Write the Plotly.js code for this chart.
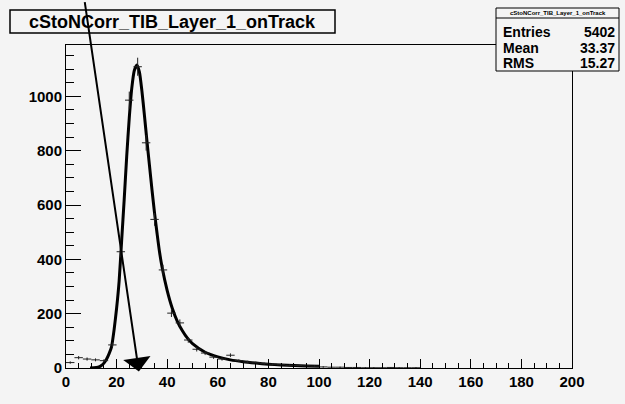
<!DOCTYPE html>
<html><head><meta charset="utf-8">
<script src="https://cdn.plot.ly/plotly-3.0.1.min.js"></script>
<style>html,body{margin:0;padding:0;background:#f4f4f4;}#plot{width:625px;height:404px;}</style>
</head><body><div id="plot"></div>
<script>
// ---- data ----
const binCenters = [1.67,5,8.33,11.67,15,18.33,21.67,25,28.33,31.67,35,38.33,41.67,45,48.33,51.67,55,58.33,61.67,65,68.33,71.67,75,78.33,81.67,85,88.33,91.67,95,98.33,101.67,105,108.33,111.67,115,118.33,121.67,125,128.33,131.67,135,138.33];
const binCounts  = [20,38,33,30,27,85,428,986,1109,829,547,361,202,166,103,69,55,40,33,47,27,22,19,16,14,12,10,9,8,7,4,3,3,2,2,1,1,1,2,1,1,1];
const fitX = [9.5,11,12,13,14,15,16,17,18,19,20,21,22,23,24,25,26,27,28,29,30,31,32,33,34,35,36,37,38,40,42,44,46,48,50,55,60,65,70,75,80,85,90,95,100];
const fitY = [0,1,2,4,9,18,32,52,78,140,220,320,470,620,780,920,1030,1095,1115,1090,1020,930,835,745,655,570,495,425,370,285,220,172,137,110,90,58,41,30,23,18,14,11,9,7,6];
const xTicks = [0,20,40,60,80,100,120,140,160,180,200];
const yTicks = [0,200,400,600,800,1000];
const histTitle = 'cStoNCorr_TIB_Layer_1_onTrack';
const statLabels = ['Entries','Mean','RMS'];
const statValues = ['5402','33.37','15.27'];
const arrowStart = [7.3, 1354];
const arrowEnd = [28.8, -13];

// ---- layout geometry ----
const W=625,H=404,L=66,R=53,T=45,B=36;
const pw=W-L-R, ph=H-T-B;
const xRange=[0,200], yRange=[0,1189];
const px=x=>(x-L)/pw, py=y=>(H-B-y)/ph;
const BG='#f4f4f4';
const FONT='Liberation Sans, Arial, sans-serif';

const hist = {
  x: binCenters, y: binCounts, type:'scatter', mode:'markers',
  marker:{size:1, color:'#222'},
  error_x:{type:'constant', value:1.667, width:0, thickness:1, color:'#222'},
  error_y:{type:'sqrt', width:0, thickness:1, color:'#222'},
  cliponaxis:false, hoverinfo:'skip'
};
const fit = {
  x: fitX, y: fitY, type:'scatter', mode:'lines',
  line:{color:'#000', width:3, shape:'spline', smoothing:0.6}, hoverinfo:'skip'
};

const shapes = [
  {type:'rect', xref:'paper', yref:'paper', x0:px(10), x1:px(335), y0:py(10), y1:py(33),
   line:{color:'#000', width:1.5}, fillcolor:'rgba(0,0,0,0)', layer:'above'},
  {type:'rect', xref:'paper', yref:'paper', x0:px(496), x1:px(619), y0:py(8), y1:py(71),
   line:{color:'#000', width:1}, fillcolor:BG, layer:'above'},
  {type:'line', xref:'paper', yref:'paper', x0:px(496), x1:px(619), y0:py(18), y1:py(18),
   line:{color:'#000', width:1}, layer:'above'}
];

// arrow: tip/tail given in data units, placed via paper fractions so it is not hidden off-range
const toPaperX = v => (v-xRange[0])/(xRange[1]-xRange[0]);
const toPaperY = v => (v-yRange[0])/(yRange[1]-yRange[0]);
const annotations = [
  {xref:'paper', yref:'paper', x:px(172.5), y:py(21.5), xanchor:'center', yanchor:'middle',
   text:histTitle, showarrow:false, font:{family:FONT, size:18, weight:'bold', color:'#000'}},
  {xref:'paper', yref:'paper', x:px(557.5), y:py(13), xanchor:'center', yanchor:'middle',
   text:histTitle, showarrow:false, font:{family:FONT, size:6, weight:'bold', color:'#000'}},
  {xref:'paper', yref:'paper', x:toPaperX(arrowEnd[0]), y:toPaperY(arrowEnd[1]),
   axref:'pixel', ayref:'pixel',
   ax:(toPaperX(arrowStart[0])-toPaperX(arrowEnd[0]))*pw,
   ay:-(toPaperY(arrowStart[1])-toPaperY(arrowEnd[1]))*ph,
   text:' ', font:{size:1}, showarrow:true, arrowhead:1, arrowsize:2.3,
   arrowwidth:2, arrowcolor:'#000', standoff:0, startstandoff:0}
];
const rowY=[32,48,63];
statLabels.forEach((lab,i)=>{
  annotations.push({xref:'paper', yref:'paper', x:px(501), y:py(rowY[i]), xanchor:'left', yanchor:'middle',
    text:lab, showarrow:false, font:{family:FONT, size:14, weight:'bold', color:'#000'}});
  annotations.push({xref:'paper', yref:'paper', x:px(617), y:py(rowY[i]), xanchor:'right', yanchor:'middle',
    text:statValues[i], showarrow:false, font:{family:FONT, size:14, weight:'bold', color:'#000'}});
});

const axisCommon = {
  showgrid:false, zeroline:false, showline:true, linecolor:'#000', linewidth:1, mirror:true,
  ticks:'inside', tickcolor:'#000', tickwidth:1, tickmode:'array',
  tickfont:{family:FONT, size:15, weight:'bold', color:'#000'}
};
const layout = {
  width:W, height:H, margin:{l:L, r:R, t:T, b:B, pad:0},
  paper_bgcolor:BG, plot_bgcolor:BG, showlegend:false,
  xaxis:Object.assign({}, axisCommon, {range:xRange, tickvals:xTicks, ticktext:xTicks.map(String), ticklen:9,
    minor:{tickmode:'linear', tick0:0, dtick:5, ticklen:5, ticks:'inside', tickcolor:'#000'}}),
  yaxis:Object.assign({}, axisCommon, {range:yRange, tickvals:yTicks, ticktext:yTicks.map(String), ticklen:15,
    minor:{tickmode:'linear', tick0:0, dtick:50, ticklen:8, ticks:'inside', tickcolor:'#000'}}),
  shapes:shapes, annotations:annotations
};
Plotly.newPlot('plot', [fit, hist], layout, {staticPlot:true, displayModeBar:false});
</script></body></html>
